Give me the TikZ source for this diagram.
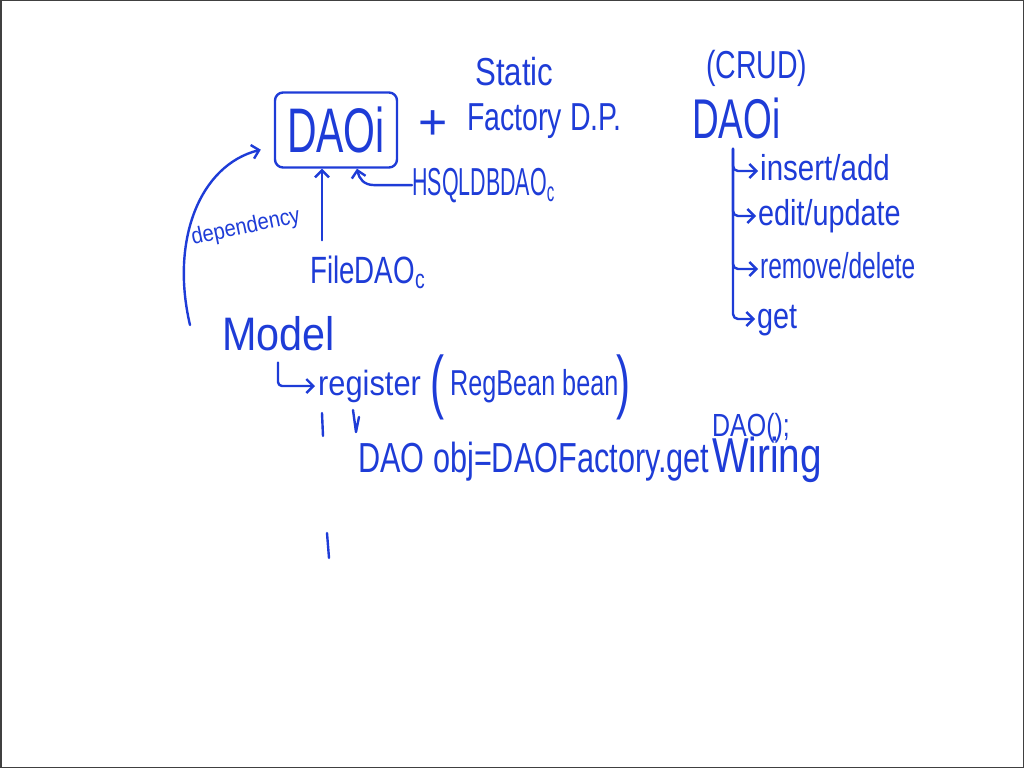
\documentclass[tikz,border=0pt]{standalone}
\usepackage{fontspec}
\setmainfont{Liberation Sans}
\usetikzlibrary{arrows.meta}
\definecolor{ink}{RGB}{30,60,215}
% size, horizontal squeeze, text
\newcommand{\hw}[3]{\fontsize{#1}{#1}\selectfont\scalebox{#2}[1]{#3}}
\tikzset{
    pen/.style = {ink, line width=2.4pt, line cap=round, line join=round},
    arr/.style = {pen, -{Straight Barb[length=7pt,width=14pt]}},
    txt/.style = {ink, inner sep=0pt, anchor=base west}
}
\begin{document}
\begin{tikzpicture}[x=1pt, y=-1pt]
    \useasboundingbox (0,0) rectangle (1024,768);
    \draw[black!75, line width=1.5pt] (0.75,0.75) rectangle (1023.25,767.25);

    % interface box and its neighbours
    \node[pen, draw, rounded corners=8pt, minimum width=122pt, minimum height=75pt,
          inner sep=0pt, text=ink] (daoi) at (336,130) {\hw{63}{0.65}{DAOi}};
    \node[ink, inner sep=0pt] (plus) at (433,125) {\hw{50}{1}{+}};
    \node[txt] (static) at (475,85) {\hw{39}{0.8}{Static}};
    \node[txt] (factory) at (467,130) {\hw{39}{0.73}{Factory D.P.}};
    \node[txt] (hsql) at (412,195) {\hw{39}{0.55}{HSQLDBDAO\textsubscript{c}}};
    \node[txt] (filedao) at (310,283) {\hw{38}{0.73}{FileDAO\textsubscript{c}}};
    \node[txt, rotate=12] (dep) at (193,245) {\hw{23}{0.88}{dependency}};

    % model and its method
    \node[txt] (model) at (222,350) {\hw{47}{0.88}{Model}};
    \node[txt] (register) at (318,395) {\hw{35}{0.88}{register}};
    \node[txt] (lpar) at (430,405) {\hw{70}{0.6}{(}};
    \node[txt] (regbean) at (450,395) {\hw{36}{0.7}{RegBean bean}};
    \node[txt] (rpar) at (616,405) {\hw{70}{0.6}{)}};
    \node[txt] (daoobj) at (358,472) {\hw{42}{0.73}{DAO obj=DAOFactory.get}};
    \node[txt] (getdao) at (712,436) {\hw{32}{0.78}{DAO();}};
    \node[txt] (wiring) at (712,472) {\hw{49}{0.79}{Wiring}};

    % CRUD list
    \node[txt] (crud) at (706,78) {\hw{39}{0.73}{(CRUD)}};
    \node[txt] (daoR) at (692,138) {\hw{56}{0.66}{DAOi}};
    \node[txt] (insert) at (760,180) {\hw{36}{0.82}{insert/add}};
    \node[txt] (edit) at (758,225) {\hw{36}{0.8}{edit/update}};
    \node[txt] (remove) at (760,278) {\hw{36}{0.68}{remove/delete}};
    \node[txt] (get) at (757,328) {\hw{36}{0.8}{get}};

    \path (daoR.south -| 733,0) ++(0,10) coordinate (treeTop);
    \foreach \m in {insert,edit,remove,get}
        \draw[arr, rounded corners=5pt] (treeTop) |- ([xshift=-2pt,yshift=9pt]\m.base west);

    % arrows into the interface
    \path (filedao.north -| 322,0) ++(0,-15) coordinate (fileTail);
    \draw[arr] (fileTail) -- (daoi.south -| 322,0);
    \draw[arr] (hsql.west) -- ++(-38,0) .. controls +(-10,0) and +(2,10) .. (daoi.south -| 357,0);
    \coordinate (depTail) at (190,325);
    \path (daoi.south west) ++(-13,-19) coordinate (depHead);
    \draw[arr] (depTail) .. controls (170,240) and (200,165) .. (depHead);
    \path (model.south west) ++(56,12) coordinate (hookTop);
    \draw[arr, rounded corners=4pt] (hookTop) |- ([xshift=-3pt,yshift=9pt]register.base west);

    % loose strokes
    \draw[pen] (322,413) -- (323,436);
    \draw[pen] (353,410) -- (356,432) -- (359,417);
    \draw[pen] (327,533) -- (329,558);
\end{tikzpicture}
\end{document}
